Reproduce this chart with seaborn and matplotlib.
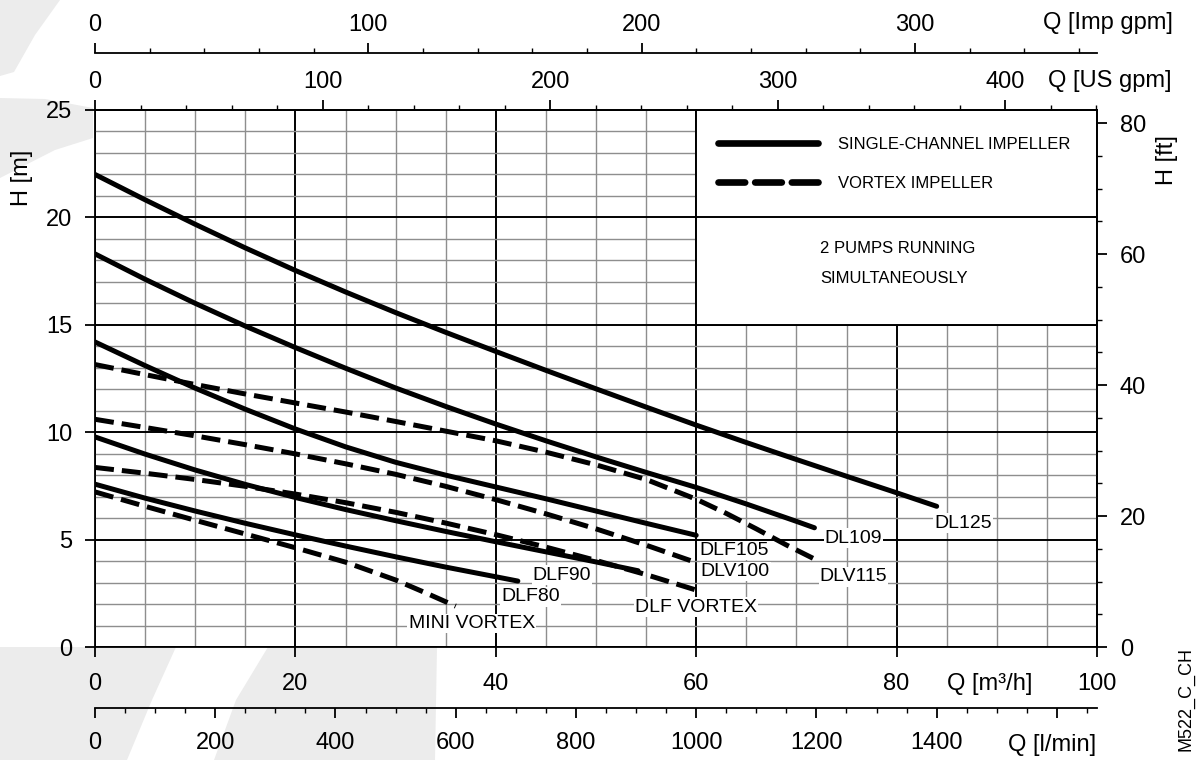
import pandas as pd
import matplotlib
matplotlib.use("Agg")
import matplotlib.pyplot as plt
from matplotlib.lines import Line2D
from matplotlib.patches import Rectangle, Polygon
from matplotlib.ticker import MultipleLocator, FixedLocator, FixedFormatter
import seaborn as sns

# pump curves, 2 pumps running: flow Q [m3/h] and head H [m]
dl125_q = [0, 5, 10, 15, 20, 25, 30, 35, 40, 45, 50, 55, 60, 65, 70, 75, 80, 84]
dl125_h = [22.0, 20.82, 19.68, 18.58, 17.53, 16.53, 15.57, 14.65, 13.76, 12.88, 12.02, 11.17, 10.33, 9.52, 8.73, 7.95, 7.18, 6.55]

dl109_q = [0, 5, 10, 15, 20, 25, 30, 35, 40, 45, 50, 55, 60, 65, 70, 71.8]
dl109_h = [18.3, 17.12, 16.0, 14.94, 13.94, 12.98, 12.06, 11.2, 10.38, 9.6, 8.85, 8.13, 7.43, 6.66, 5.85, 5.55]

dlf105_q = [0, 5, 10, 15, 20, 25, 30, 35, 40, 45, 50, 55, 60]
dlf105_h = [14.2, 13.1, 12.05, 11.07, 10.15, 9.32, 8.6, 8.0, 7.45, 6.9, 6.33, 5.76, 5.2]

dlv115_q = [0, 5, 10, 15, 20, 25, 30, 35, 40, 45, 50, 55, 60, 63, 66, 69, 72]
dlv115_h = [13.15, 12.68, 12.22, 11.78, 11.36, 10.94, 10.5, 10.05, 9.6, 9.07, 8.48, 7.8, 6.88, 6.22, 5.5, 4.75, 4.05]

dlv100_q = [0, 5, 10, 15, 20, 25, 30, 35, 40, 45, 50, 55, 60]
dlv100_h = [10.6, 10.22, 9.83, 9.42, 8.99, 8.53, 8.04, 7.48, 6.86, 6.2, 5.5, 4.74, 3.93]

dlf90_q = [0, 5, 10, 15, 20, 25, 30, 35, 40, 45, 50, 54.2]
dlf90_h = [9.78, 8.98, 8.24, 7.57, 6.96, 6.4, 5.88, 5.38, 4.9, 4.43, 3.96, 3.55]

dlf_vortex_q = [0, 5, 10, 15, 20, 25, 30, 35, 40, 45, 50, 55, 60]
dlf_vortex_h = [8.36, 8.09, 7.8, 7.48, 7.12, 6.72, 6.27, 5.77, 5.23, 4.65, 4.03, 3.37, 2.65]

dlf80_q = [0, 5, 10, 15, 20, 25, 30, 35, 40, 42.2]
dlf80_h = [7.58, 6.93, 6.33, 5.76, 5.22, 4.7, 4.2, 3.72, 3.27, 3.07]

mini_vortex_q = [0, 5, 10, 15, 20, 25, 30, 33, 36]
mini_vortex_h = [7.22, 6.55, 5.9, 5.26, 4.62, 3.95, 3.12, 2.52, 1.9]

pumps = [
    ("DL125", "single", dl125_q, dl125_h),
    ("DL109", "single", dl109_q, dl109_h),
    ("DLF105", "single", dlf105_q, dlf105_h),
    ("DLV115", "vortex", dlv115_q, dlv115_h),
    ("DLV100", "vortex", dlv100_q, dlv100_h),
    ("DLF90", "single", dlf90_q, dlf90_h),
    ("DLF VORTEX", "vortex", dlf_vortex_q, dlf_vortex_h),
    ("DLF80", "single", dlf80_q, dlf80_h),
    ("MINI VORTEX", "vortex", mini_vortex_q, mini_vortex_h),
]

# unit conversions from m3/h and m
US_GPM = 4.4029
IMP_GPM = 3.6662
L_MIN = 16.6667
FT = 3.28084

# tick values of the extra scales
imp_ticks = [0, 100, 200, 300]
imp_minor = [v for v in range(0, 361, 20)]
us_ticks = [0, 100, 200, 300, 400]
us_minor = [v for v in range(0, 441, 20)]
lmin_ticks = [0, 200, 400, 600, 800, 1000, 1200, 1400, 1600]
lmin_labels = ["0", "200", "400", "600", "800", "1000", "1200", "1400", ""]
lmin_minor = [v for v in range(0, 1651, 50)]
ft_ticks = [0, 20, 40, 60, 80]
ft_minor = [v for v in range(0, 81, 5)]

rows = []
for name, kind, qs, hs in pumps:
    for q, h in zip(qs, hs):
        rows.append({"pump": name, "kind": kind, "Q": q, "H": h})
df = pd.DataFrame(rows)

sns.set_theme(style="ticks", rc={
    "axes.edgecolor": "black", "xtick.color": "black", "ytick.color": "black",
    "text.color": "black", "axes.labelcolor": "black", "axes.linewidth": 1.3,
})
plt.rcParams["font.family"] = ["Liberation Sans", "DejaVu Sans"]

W, H = 1197, 760
fig = plt.figure(figsize=(W / 100, H / 100), dpi=100)


def px(x, y):
    return x / W, 1 - y / H


# faint watermark swooshes behind the chart
wm = "#ececec"
shapes = [
    [(0, 0), (60, 0), (35, 35), (14, 72), (0, 76)],
    [(0, 98), (45, 99), (93, 108), (93, 138), (55, 150), (0, 178)],
    [(0, 647), (176, 647), (152, 700), (127, 760), (0, 760)],
    [(268, 647), (437, 647), (435, 760), (214, 760), (236, 700)],
]
for s in shapes:
    fig.patches.append(Polygon([px(*p) for p in s], closed=True, transform=fig.transFigure,
                               facecolor=wm, edgecolor="none", zorder=-5))

ax = fig.add_axes([95 / W, 1 - 647 / H, 1002 / W, 537 / H])
ax.set_xlim(0, 100)
ax.set_ylim(0, 25)
ax.xaxis.set_major_locator(MultipleLocator(20))
ax.xaxis.set_minor_locator(MultipleLocator(5))
ax.yaxis.set_major_locator(MultipleLocator(5))
ax.yaxis.set_minor_locator(MultipleLocator(1))
ax.set_axisbelow(True)
ax.grid(which="minor", color="#8e8e8e", linewidth=1.0)
ax.grid(which="major", color="black", linewidth=1.4)
ax.tick_params(which="minor", length=0)
ax.tick_params(which="major", length=7.5, width=1.3, labelsize=17)
ax.tick_params(axis="x", pad=11)
ax.tick_params(axis="y", pad=9)

# legend box (upper right)
ax.add_patch(Rectangle((60, 15), 40, 10, facecolor="white", edgecolor="black",
                       linewidth=1.4, zorder=1.5))
ax.hlines(20, 60, 100, colors="black", linewidth=1.4, zorder=1.6)

sns.lineplot(data=df, x="Q", y="H", units="pump", estimator=None, sort=False,
             style="kind", dashes={"single": "", "vortex": (3.8, 1.6)},
             color="black", linewidth=3.6, legend=False, ax=ax, zorder=3)
for line in ax.get_lines():
    line.set_solid_capstyle("round")
    line.set_solid_joinstyle("round")
    line.set_dash_capstyle("butt")
ax.set_xlabel("")
ax.set_ylabel("")

handles = [
    Line2D([], [], color="black", linewidth=4.8, solid_capstyle="round"),
    Line2D([], [], color="black", linewidth=4.8, dashes=(4.0, 1.5), dash_capstyle="round"),
]
leg = ax.legend(handles, ["SINGLE-CHANNEL IMPELLER", "VORTEX IMPELLER"], loc="upper left",
                bbox_to_anchor=(62.2, 23.75), bbox_transform=ax.transData, frameon=False,
                fontsize=12, handlelength=6.0, handletextpad=1.2, labelspacing=1.45,
                borderpad=0, borderaxespad=0)
leg.set_zorder(5)
ax.text(72.4, 18.56, "2 PUMPS RUNNING", fontsize=12, va="center", ha="left", zorder=5)
ax.text(72.4, 17.16, "SIMULTANEOUSLY", fontsize=12, va="center", ha="left", zorder=5)

# curve names
label_pos = {
    "DL125": (86.6, 5.77), "DL109": (75.7, 5.07), "DLF105": (63.8, 4.5),
    "DLV100": (63.9, 3.53), "DLV115": (75.7, 3.26), "DLF VORTEX": (60.0, 1.86),
    "DLF90": (46.6, 3.35), "DLF80": (43.5, 2.33), "MINI VORTEX": (37.6, 1.1),
}
for name, (lx, ly) in label_pos.items():
    ax.text(lx, ly, name, fontsize=14, ha="center", va="center", zorder=4,
            bbox=dict(facecolor="white", edgecolor="none", pad=0.8))

# secondary scales
sec_us = ax.secondary_xaxis("top", functions=(lambda q: q * US_GPM, lambda g: g / US_GPM))
sec_us.xaxis.set_major_locator(FixedLocator(us_ticks))
sec_us.xaxis.set_minor_locator(FixedLocator(us_minor))

sec_imp = ax.secondary_xaxis(1 + 57 / 537, functions=(lambda q: q * IMP_GPM, lambda g: g / IMP_GPM))
sec_imp.xaxis.set_major_locator(FixedLocator(imp_ticks))
sec_imp.xaxis.set_minor_locator(FixedLocator(imp_minor))

sec_l = ax.secondary_xaxis(-61 / 537, functions=(lambda q: q * L_MIN, lambda l: l / L_MIN))
sec_l.xaxis.set_major_locator(FixedLocator(lmin_ticks))
sec_l.xaxis.set_major_formatter(FixedFormatter(lmin_labels))
sec_l.xaxis.set_minor_locator(FixedLocator(lmin_minor))

sec_ft = ax.secondary_yaxis("right", functions=(lambda h: h * FT, lambda f: f / FT))
sec_ft.yaxis.set_major_locator(FixedLocator(ft_ticks))
sec_ft.yaxis.set_minor_locator(FixedLocator(ft_minor))

for sec in (sec_us, sec_imp, sec_l, sec_ft):
    sec.tick_params(which="major", length=7.5, width=1.3, labelsize=17)
    sec.tick_params(which="minor", length=3.8, width=1.0)
    for sp in sec.spines.values():
        sp.set_linewidth(1.3)
sec_us.tick_params(pad=5)
sec_imp.tick_params(pad=4.5)
sec_l.tick_params(pad=10)
sec_ft.tick_params(pad=9)

# unit labels
fig.text(*px(1108, 23), "Q [Imp gpm]", fontsize=17, ha="center", va="center")
fig.text(*px(1110, 81), "Q [US gpm]", fontsize=17, ha="center", va="center")
fig.text(*px(990, 684), "Q [m³/h]", fontsize=17, ha="center", va="center")
fig.text(*px(1052, 745), "Q [l/min]", fontsize=17, ha="center", va="center")
fig.text(*px(22, 178), "H [m]", fontsize=17, ha="center", va="center", rotation=90)
fig.text(*px(1167, 160), "H [ft]", fontsize=17, ha="center", va="center", rotation=90)
fig.text(*px(1186, 647), "M522_C_CH", fontsize=13, ha="center", va="top", rotation=90)

fig.savefig("out.png", dpi=100)
